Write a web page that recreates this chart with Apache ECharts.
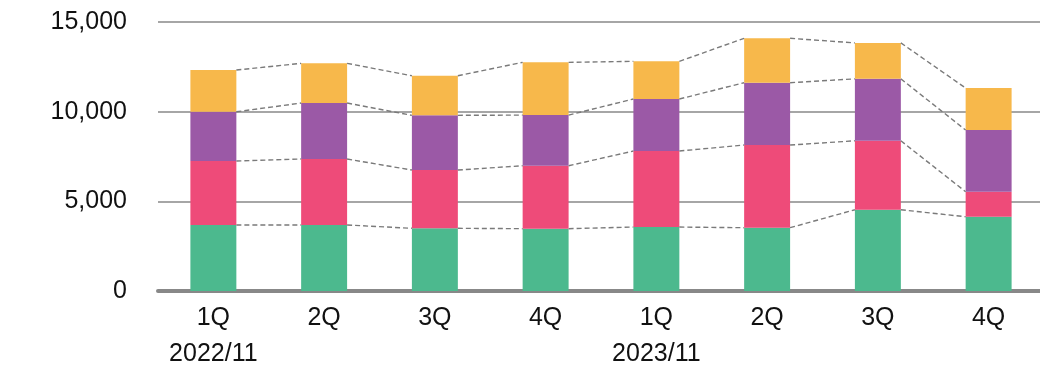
<!DOCTYPE html>
<html>
<head>
<meta charset="utf-8">
<script src="https://cdn.jsdelivr.net/npm/echarts@6/dist/echarts.min.js"></script>
<style>
  html, body { margin: 0; padding: 0; background: #fff; }
  #chart { width: 1040px; height: 365px; }
</style>
</head>
<body>
<div id="chart"></div>
<script>
// 四半期ラベルと年ラベル
const quarters = ['1Q', '2Q', '3Q', '4Q', '1Q', '2Q', '3Q', '4Q'];
const years = ['2022/11', '', '', '', '2023/11', '', '', ''];

// 積み上げ値（下から順）
const greenValues  = [3680, 3680, 3495, 3475, 3565, 3530, 4530, 4140];
const pinkValues   = [3565, 3680, 3250, 3510, 4240, 4610, 3845, 1395];
const purpleValues = [2750, 3120, 3050, 2825, 2900, 3475, 3455, 3440];
const orangeValues = [2325, 2215, 2205, 2940, 2100, 2475, 2005, 2340];

const colors = ['#4cb98e', '#ee4b79', '#9b59a6', '#f7b84b'];
const BAR_RATIO = 0.415;

const stackSeries = [greenValues, pinkValues, purpleValues, orangeValues];

// 各段の累積値（点線の端点用）
let cumulative = [];
let running = quarters.map(() => 0);
stackSeries.forEach(vals => {
  running = running.map((r, i) => r + vals[i]);
  cumulative.push(running.slice());
});

// 点線データ: [i, 今の棒の上端, 次の棒の上端]
let connectorData = [];
cumulative.forEach(level => {
  for (let i = 0; i < level.length - 1; i++) {
    connectorData.push([i, level[i], level[i + 1]]);
  }
});

const chart = echarts.init(document.getElementById('chart'));

const barSeries = stackSeries.map((vals, k) => ({
  type: 'bar',
  stack: 'total',
  data: vals,
  barWidth: (BAR_RATIO * 100) + '%',
  itemStyle: { color: colors[k] },
  z: 3
}));

const connectorSeries = {
  type: 'custom',
  data: connectorData,
  encode: { x: 0, y: [1, 2] },
  z: 4,
  silent: true,
  renderItem: function (params, api) {
    const i = api.value(0);
    const p1 = api.coord([i, api.value(1)]);
    const p2 = api.coord([i + 1, api.value(2)]);
    const half = api.size([1, 0])[0] * BAR_RATIO / 2;
    return {
      type: 'line',
      shape: { x1: p1[0] + half, y1: p1[1], x2: p2[0] - half, y2: p2[1] },
      style: { stroke: '#7a7a7a', lineWidth: 1.4, lineDash: [5, 3] }
    };
  }
};

const option = {
  animation: false,
  grid: { left: 158, top: 22, width: 886, bottom: 74, containLabel: false, outerBoundsMode: 'none' },
  xAxis: {
    type: 'category',
    data: quarters,
    axisLine: { lineStyle: { color: '#888', width: 4 } },
    axisTick: { show: false },
    axisLabel: {
      margin: 9,
      color: '#111',
      fontFamily: 'Liberation Sans, Arial, sans-serif',
      fontSize: 25,
      lineHeight: 36,
      interval: 0,
      formatter: function (value, index) {
        return years[index] ? value + '\n' + years[index] : value;
      }
    }
  },
  yAxis: {
    type: 'value',
    min: 0,
    max: 15000,
    interval: 5000,
    axisLine: { show: false },
    axisTick: { show: false },
    splitLine: { lineStyle: { color: '#888', width: 1.5 } },
    axisLabel: {
      margin: 31,
      color: '#111',
      fontFamily: 'Liberation Sans, Arial, sans-serif',
      fontSize: 25,
      formatter: v => v.toLocaleString('en-US')
    }
  },
  series: barSeries.concat([connectorSeries])
};

chart.setOption(option);
</script>
</body>
</html>
